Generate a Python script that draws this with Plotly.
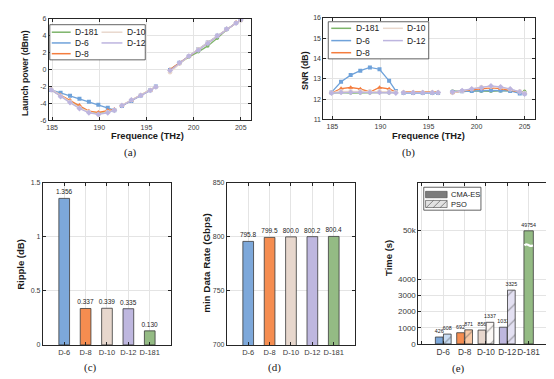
import plotly.graph_objects as go

W, H = 554, 379
SANS = "Liberation Sans"
SERIF = "Liberation Serif"

# ---------------- data ----------------
SERIES = ["D-181", "D-6", "D-8", "D-10", "D-12"]

FREQ = [184.9, 185.9, 186.9, 187.9, 188.9, 189.9, 190.9, 191.6, None,
        192.4, 193.4, 194.4, 195.4, 196.0, None,
        197.5, 198.5, 199.5, 200.5, 201.5, 202.5, 203.5, 204.5, 205.0]

LP_D181 = [-2.4, -3.1, -3.7, -4.4, -5.0, -5.2, -5.0, -4.8, None,
           -4.25, -3.65, -3.05, -2.45, -2.05, None,
           0.0, 0.8, 1.5, 2.1, 2.8, 3.7, 4.7, 5.5, 5.8]
LP_D6 = [-2.4, -2.75, -3.1, -3.45, -3.8, -4.15, -4.5, -4.8, None,
         -4.3, -3.7, -3.05, -2.45, -2.0, None,
         -0.05, 0.8, 1.6, 2.4, 3.2, 4.0, 4.8, 5.5, 5.9]
LP_D8 = [-2.4, -3.0, -3.6, -4.2, -4.9, -5.05, -4.8, -4.7, None,
         -4.25, -3.65, -3.05, -2.45, -2.05, None,
         0.0, 0.8, 1.6, 2.4, 3.2, 4.0, 4.8, 5.6, 5.9]
LP_D10 = [-2.3, -3.1, -3.8, -4.5, -5.0, -5.3, -5.0, -4.8, None,
          -4.2, -3.6, -3.0, -2.45, -2.05, None,
          -0.3, 0.7, 1.6, 2.4, 3.2, 4.0, 4.8, 5.5, 5.8]
LP_D12 = [-2.4, -3.2, -3.9, -4.6, -5.1, -5.3, -5.1, -4.8, None,
          -4.25, -3.6, -3.05, -2.45, -2.05, None,
          -0.1, 0.8, 1.6, 2.3, 3.1, 4.0, 4.8, 5.5, 5.9]

SNR_D181 = [12.3, 12.32, 12.3, 12.3, 12.3, 12.32, 12.3, 12.33, None,
            12.33, 12.33, 12.33, 12.33, 12.33, None,
            12.4, 12.38, 12.4, 12.38, 12.38, 12.4, 12.4, 12.35, 12.38]
SNR_D6 = [12.33, 12.85, 13.18, 13.4, 13.56, 13.47, 12.9, 12.4, None,
          12.3, 12.3, 12.3, 12.3, 12.3, None,
          12.35, 12.38, 12.4, 12.42, 12.43, 12.42, 12.4, 12.28, 12.28]
SNR_D8 = [12.3, 12.52, 12.57, 12.5, 12.35, 12.57, 12.5, 12.35, None,
          12.35, 12.35, 12.35, 12.35, 12.35, None,
          12.3, 12.4, 12.45, 12.5, 12.55, 12.52, 12.45, 12.35, 12.3]
SNR_D10 = [12.32, 12.38, 12.38, 12.38, 12.38, 12.38, 12.38, 12.35, None,
           12.33, 12.33, 12.33, 12.33, 12.33, None,
           12.3, 12.4, 12.5, 12.6, 12.62, 12.58, 12.48, 12.38, 12.3]
SNR_D12 = [12.3, 12.33, 12.33, 12.33, 12.33, 12.33, 12.33, 12.3, None,
           12.32, 12.32, 12.32, 12.32, 12.32, None,
           12.35, 12.42, 12.5, 12.55, 12.65, 12.6, 12.5, 12.35, 12.25]

CATS = ["D-6", "D-8", "D-10", "D-12", "D-181"]
RIPPLE = [1.356, 0.337, 0.339, 0.335, 0.130]
MIN_RATE = [795.8, 799.5, 800.0, 800.2, 800.4]
TIME_CMA = [426, 692, 856, 1032, 49754]
TIME_PSO = [608, 871, 1337, 3325]          # no PSO run for D-181

FREQ_TICKS = [185, 190, 195, 200, 205]
LP_TICKS = [-6, -4, -2, 0, 2, 4, 6]
SNR_TICKS = [11, 12, 13, 14, 15, 16]
RIPPLE_TICKS = [0, 0.5, 1, 1.5]
RATE_TICKS = [700, 750, 800, 850]
TIME_TICKS = [0, 1000, 2000, 3000, 4000, 50000]
TIME_TICK_TEXT = ["0", "1000", "2000", "3000", "4000", "50k"]

# ---------------- styles ----------------
LINE_COLORS = {"D-181": "#7DB46A", "D-6": "#6FA2DA", "D-8": "#F47D3E",
               "D-10": "#E9D8CD", "D-12": "#BDB5DF"}
MARKERS = {"D-181": ("circle", 3.5), "D-6": ("square", 4), "D-8": ("triangle-up", 4.5),
           "D-10": ("circle", 4.5), "D-12": ("diamond", 4.5)}
BAR_COLORS = ["#7DA8DA", "#F58D50", "#E7D7CD", "#BEB7DF", "#94BB84"]
PSO_COLORS = ["#C9DDF3", "#F8C9A6", "#FBF8F5", "#E3E0F2"]
EDGE = "#3a3a3a"
AX = "#262626"
TICK_C = "#3a3a3a"


def px_x(px):
    return px / W


def px_y(py):
    return 1 - py / H


def dom_x(l, r):
    return [l / W, r / W]


def dom_y(t, b):
    return [1 - b / H, 1 - t / H]


# broken axis mapping for panel (e)
BRK = 4000
BRK_TOP_VAL = 50000
BRK_TOP_POS = 7010
E_TOP = 9960


def ymap(v):
    if v <= BRK:
        return v
    return BRK + (v - BRK) * (BRK_TOP_POS - BRK) / (BRK_TOP_VAL - BRK)


fig = go.Figure()

lp_series = [LP_D181, LP_D6, LP_D8, LP_D10, LP_D12]
snr_series = [SNR_D181, SNR_D6, SNR_D8, SNR_D10, SNR_D12]
for name, lp, snr in zip(SERIES, lp_series, snr_series):
    sym, sz = MARKERS[name]
    for ys, xa, ya in ((lp, "x", "y"), (snr, "x2", "y2")):
        fig.add_trace(go.Scatter(
            x=FREQ, y=ys, mode="lines+markers", name=name,
            line=dict(color=LINE_COLORS[name], width=1.3),
            marker=dict(symbol=sym, size=sz, color=LINE_COLORS[name]),
            connectgaps=False, xaxis=xa, yaxis=ya, showlegend=False))

POS = list(range(1, len(CATS) + 1))

fig.add_trace(go.Bar(
    x=POS, y=RIPPLE, width=0.5, marker=dict(color=BAR_COLORS, line=dict(color=EDGE, width=0.8)),
    text=[f"{v:.3f}" for v in RIPPLE], textposition="outside", constraintext="none",
    textfont=dict(size=6.5, color="#222", family=SANS), cliponaxis=False,
    xaxis="x3", yaxis="y3", showlegend=False))

fig.add_trace(go.Bar(
    x=POS, y=MIN_RATE, width=0.5, marker=dict(color=BAR_COLORS, line=dict(color=EDGE, width=0.8)),
    text=[f"{v:.1f}" for v in MIN_RATE], textposition="outside", constraintext="none",
    textfont=dict(size=6.5, color="#222", family=SANS), cliponaxis=False,
    xaxis="x4", yaxis="y4", showlegend=False))

OFF = 0.19
n_pso = len(TIME_PSO)
cma_x = [p - OFF if i < n_pso else p for i, p in enumerate(POS)]
cma_w = [0.36 if i < n_pso else 0.44 for i in range(len(POS))]
fig.add_trace(go.Bar(
    x=cma_x, y=[ymap(v) for v in TIME_CMA], width=cma_w,
    marker=dict(color=BAR_COLORS, line=dict(color=EDGE, width=0.8)),
    text=[str(v) for v in TIME_CMA], textposition="outside", constraintext="none",
    textfont=dict(size=5.3, color="#222", family=SANS), cliponaxis=False,
    xaxis="x5", yaxis="y5", showlegend=False))
fig.add_trace(go.Bar(
    x=[p + OFF for p in POS[:n_pso]], y=[ymap(v) for v in TIME_PSO], width=0.36,
    marker=dict(color=PSO_COLORS, line=dict(color=EDGE, width=0.8),
                pattern=dict(shape="/", fgcolor="#333", size=11, solidity=0.1, fillmode="overlay")),
    text=[str(v) for v in TIME_PSO], textposition="outside", constraintext="none",
    textfont=dict(size=5.3, color="#222", family=SANS), cliponaxis=False,
    xaxis="x5", yaxis="y5", showlegend=False))

# axis-break mark on the D-181 bar
bx = POS[-1]
bw = cma_w[-1] / 2
brk_pos = BRK + 0.7 * (BRK_TOP_POS - BRK)
fig.add_trace(go.Scatter(
    x=[bx - bw * 0.9, bx - bw * 0.45, bx, bx + bw * 0.45, bx + bw * 0.9],
    y=[brk_pos, brk_pos + 45, brk_pos, brk_pos - 45, brk_pos],
    mode="lines", line=dict(color="white", width=2.2, shape="spline"),
    xaxis="x5", yaxis="y5", showlegend=False, hoverinfo="skip"))

common = dict(showline=True, linecolor=AX, linewidth=0.8, mirror="allticks", ticks="inside",
              ticklen=3, tickwidth=0.6, tickcolor=AX, showgrid=True, gridcolor="#e4e4e4",
              gridwidth=0.6, zeroline=False, tickangle=0,
              tickfont=dict(size=7, color=TICK_C, family=SANS))

cat_vals = [0] + POS + [len(POS) + 1]
cat_text = [""] + CATS + [""]

fig.update_layout(
    width=W, height=379, margin=dict(l=0, r=0, t=0, b=0),
    paper_bgcolor="white", plot_bgcolor="white", showlegend=False,
    barmode="overlay", font=dict(family=SANS, size=7, color=AX),
    xaxis=dict(common, domain=dom_x(38, 241), anchor="y", range=[184.65, 206.05],
               tickvals=FREQ_TICKS),
    yaxis=dict(common, domain=dom_y(7, 111), anchor="x", range=[-6, 6],
               tickvals=LP_TICKS, ticktext=[str(v) for v in LP_TICKS]),
    xaxis2=dict(common, domain=dom_x(314, 527), anchor="y2", range=[184.05, 206.1],
                tickvals=FREQ_TICKS),
    yaxis2=dict(common, domain=dom_y(6, 110), anchor="x2", range=[11, 16],
                tickvals=SNR_TICKS),
    xaxis3=dict(common, domain=dom_x(32, 161), anchor="y3", range=[0, 6],
                tickvals=cat_vals, ticktext=cat_text, tickfont=dict(size=7.5, color=TICK_C, family=SANS)),
    yaxis3=dict(common, domain=dom_y(175, 341), anchor="x3", range=[0, 1.5],
                tickvals=RIPPLE_TICKS, ticktext=["0", "0.5", "1", "1.5"]),
    xaxis4=dict(common, domain=dom_x(217, 346), anchor="y4", range=[0, 6],
                tickvals=cat_vals, ticktext=cat_text, tickfont=dict(size=7.5, color=TICK_C, family=SANS)),
    yaxis4=dict(common, domain=dom_y(175, 341), anchor="x4", range=[700, 850],
                tickvals=RATE_TICKS),
    xaxis5=dict(common, domain=dom_x(409.5, 549), anchor="y5", range=[-0.17, 6.33],
                tickvals=cat_vals, ticktext=cat_text, tickfont=dict(size=8.3, color=TICK_C, family=SANS)),
    yaxis5=dict(common, domain=dom_y(175, 340), anchor="x5", range=[0, E_TOP],
                tickvals=[ymap(v) for v in TIME_TICKS], ticktext=TIME_TICK_TEXT,
                tickfont=dict(size=8, color=TICK_C, family=SANS)),
)

shapes = []
annotations = []


def add_text(text, x, y, size, bold=False, family=SANS, xanchor="center", angle=0):
    annotations.append(dict(
        xref="paper", yref="paper", x=px_x(x), y=px_y(y),
        text=f"<b>{text}</b>" if bold else text, showarrow=False,
        font=dict(size=size, family=family, color="#1a1a1a"),
        xanchor=xanchor, yanchor="middle", textangle=angle))


def add_rect(x0, y0, x1, y1, fill, lc="#222", lw=0.7):
    shapes.append(dict(type="rect", xref="paper", yref="paper",
                       x0=px_x(x0), x1=px_x(x1), y0=px_y(y1), y1=px_y(y0),
                       fillcolor=fill, line=dict(color=lc, width=lw), layer="above"))


def add_line(x0, y0, x1, y1, color, width):
    shapes.append(dict(type="line", xref="paper", yref="paper",
                       x0=px_x(x0), x1=px_x(x1), y0=px_y(y0), y1=px_y(y1),
                       line=dict(color=color, width=width), layer="above"))


def line_legend(box, cols, rows, entries, size=8.5):
    add_rect(*box, fill="white")
    for (ci, ri), name in entries:
        lx0, lx1, tx = cols[ci]
        yy = rows[ri]
        add_line(lx0, yy, lx1, yy, LINE_COLORS[name], 1.5)
        add_text(name, tx, yy, size, xanchor="left")


legend_slots = [(0, 0), (1, 0), (0, 1), (1, 1), (0, 2)]
legend_names = ["D-181", "D-10", "D-6", "D-12", "D-8"]

line_legend((39, 13, 135, 49), [(41, 60, 62.5), (91, 112, 114.5)], [20.7, 31.7, 42.7],
            list(zip(legend_slots, legend_names)))
line_legend((319, 10, 420, 48), [(322, 342, 344.5), (374, 394, 396.5)], [16.7, 29.3, 41.7],
            list(zip(legend_slots, legend_names)))

# legend for (e)
add_rect(415, 179.5, 472.5, 203, fill="white")
add_rect(416.8, 183.7, 438.5, 190.3, fill="#7b7b7b", lc="#444", lw=0.6)
add_rect(416.8, 193.0, 438.5, 200.3, fill="#e2e2e2", lc="#444", lw=0.6)
for k in range(3):
    xa = 417.5 + 7 * k
    add_line(xa, 200.3, min(xa + 7.3, 438.5), 193.0 if xa + 7.3 <= 438.5 else 200.3 - (438.5 - xa),
             "#444", 0.6)
add_text("CMA-ES", 440, 187, 7.5, xanchor="left")
add_text("PSO", 440, 196.7, 7.5, xanchor="left")

# axis titles
add_text("Frequence (THz)", 137, 127, 9.3, bold=True)
add_text("Launch power (dBm)", 13.5, 62, 8.6, bold=True, angle=-90)
add_text("Frequence (THz)", 420, 127, 9.3, bold=True)
add_text("SNR (dB)", 295, 60, 8.8, bold=True, angle=-90)
add_text("Ripple (dB)", 10, 258, 9.5, bold=True, angle=-90)
add_text("min Data Rate (Gbps)", 197, 257, 9.8, bold=True, angle=-90)
add_text("Time (s)", 379, 252, 9.5, bold=True, angle=-90)

# captions
add_text("(a)", 120, 144, 11, family=SERIF)
add_text("(b)", 400, 144, 11, family=SERIF)
add_text("(c)", 80, 364, 11, family=SERIF)
add_text("(d)", 265, 364, 11, family=SERIF)
add_text("(e)", 450, 365, 11, family=SERIF)

fig.update_layout(shapes=shapes, annotations=annotations)
fig.write_html("out.html")
